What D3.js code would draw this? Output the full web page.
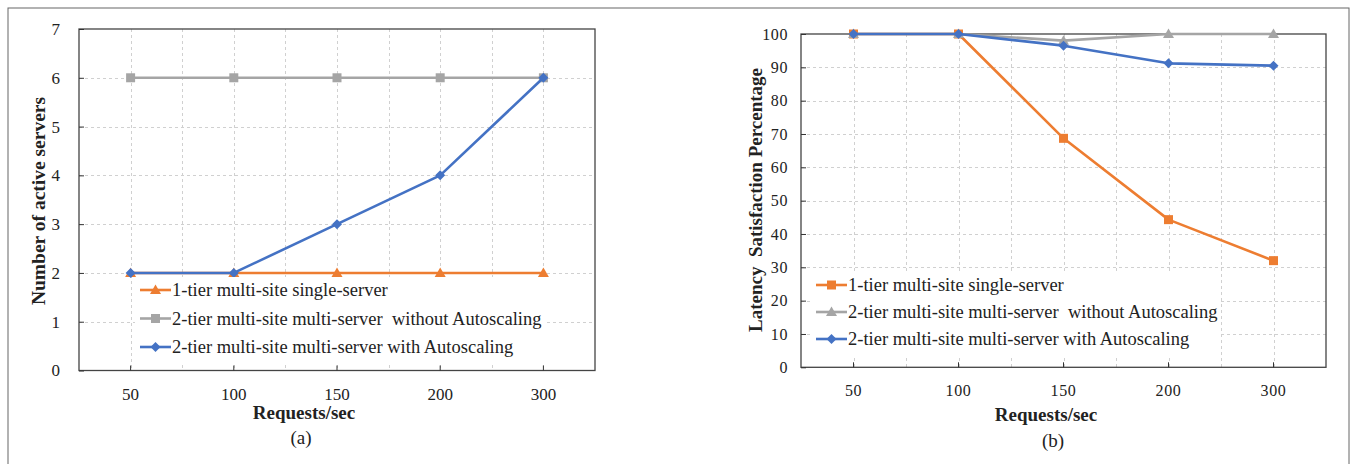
<!DOCTYPE html>
<html>
<head>
<meta charset="utf-8">
<script src="https://cdn.jsdelivr.net/npm/d3@7"></script>
<style>
  body { margin: 0; background: #fff; }
  svg { display: block; font-family: "Liberation Serif", "Times New Roman", serif; }
</style>
</head>
<body>
<svg id="chart" width="1354" height="464"></svg>
<script>
const categories = ["50", "100", "150", "200", "300"];
const seriesNames = [
  "1-tier multi-site single-server",
  "2-tier multi-site multi-server  without Autoscaling",
  "2-tier multi-site multi-server with Autoscaling"
];
const serverTicks = [0, 1, 2, 3, 4, 5, 6, 7];
const serversSingle = [2, 2, 2, 2, 2];
const serversNoAuto = [6, 6, 6, 6, 6];
const serversAuto = [2, 2, 3, 4, 6];

const latencyTicks = [0, 10, 20, 30, 40, 50, 60, 70, 80, 90, 100];
const latencySingle = [100, 100, 68.7, 44.3, 32];
const latencyNoAuto = [100, 100, 98, 100, 100];
const latencyAuto = [100, 100, 96.5, 91.2, 90.5];

const colors = ["#ED7D31", "#A5A5A5", "#4472C4"];

const svg = d3.select("#chart");

// outer frame
svg.append("rect")
  .attr("x", 8).attr("y", 8)
  .attr("width", 1341).attr("height", 480)
  .attr("fill", "none")
  .attr("stroke", "#666")
  .attr("stroke-width", 1);

function markerPath(kind) {
  if (kind === "triangle") return "M0,-5.5L5.5,4L-5.5,4Z";
  if (kind === "square") return "M-4.5,-4.5H4.5V4.5H-4.5Z";
  return "M0,-5L5,0L0,5L-5,0Z"; // diamond
}

function drawPanel(p) {
  const g = svg.append("g");
  const x = d3.scaleBand().domain(categories).range([p.left, p.right]);
  const y = d3.scaleLinear().domain([0, p.ticks[p.ticks.length - 1]]).range([p.bottom, p.top]);
  const cx = (d) => x(d) + x.bandwidth() / 2;

  // grid
  const grid = g.append("g")
    .attr("stroke", "#d0d0d0")
    .attr("stroke-width", 1)
    .attr("stroke-dasharray", "3,3");
  grid.selectAll("line.h")
    .data(p.ticks.slice(1, -1))
    .join("line")
    .attr("class", "h")
    .attr("x1", p.left).attr("x2", p.right)
    .attr("y1", (d) => Math.round(y(d)) + 0.5)
    .attr("y2", (d) => Math.round(y(d)) + 0.5);
  const vlines = [];
  categories.forEach((c, i) => {
    vlines.push(cx(c));
    if (i < categories.length - 1) vlines.push(x(c) + x.bandwidth());
  });
  grid.selectAll("line.v")
    .data(vlines)
    .join("line")
    .attr("class", "v")
    .attr("y1", p.top).attr("y2", p.bottom)
    .attr("x1", (d) => Math.round(d) + 0.5)
    .attr("x2", (d) => Math.round(d) + 0.5);

  // plot box
  g.append("rect")
    .attr("x", p.left).attr("y", p.top)
    .attr("width", p.right - p.left).attr("height", p.bottom - p.top)
    .attr("fill", "none")
    .attr("stroke", "#444")
    .attr("stroke-width", 1.3);

  // axes
  const yAxis = d3.axisLeft(y).tickValues(p.ticks).tickFormat(d3.format("d"))
    .tickSizeInner(-5).tickSizeOuter(0).tickPadding(p.labelGap);
  const ya = g.append("g").attr("transform", `translate(${p.left},0)`).call(yAxis);
  ya.select(".domain").remove();
  ya.selectAll("line").attr("stroke", "#333");
  ya.selectAll("text")
    .attr("font-size", p.tickSize)
    .attr("fill", "#222")
    .attr("letter-spacing", p.tickSpacing)
    .attr("font-family", "Liberation Serif");

  const xAxis = d3.axisBottom(x).tickSizeInner(-5).tickSizeOuter(0).tickPadding(p.xLabelGap);
  const xa = g.append("g").attr("transform", `translate(0,${p.bottom})`).call(xAxis);
  xa.select(".domain").remove();
  xa.selectAll("line").attr("stroke", "#333");
  xa.selectAll("text")
    .attr("font-size", p.tickSize)
    .attr("fill", "#222")
    .attr("letter-spacing", p.tickSpacing)
    .attr("font-family", "Liberation Serif");

  // series
  const line = d3.line().x((d) => cx(d.c)).y((d) => y(d.v));
  p.series.forEach((vals, i) => {
    const pts = vals.map((v, j) => ({ c: categories[j], v }));
    const sg = g.append("g");
    sg.append("path")
      .datum(pts)
      .attr("d", line)
      .attr("fill", "none")
      .attr("stroke", colors[i])
      .attr("stroke-width", 2.6)
      .attr("stroke-linejoin", "round");
    sg.selectAll("path.mk")
      .data(pts)
      .join("path")
      .attr("class", "mk")
      .attr("transform", (d) => `translate(${cx(d.c)},${y(d.v)})`)
      .attr("d", markerPath(p.markers[i]))
      .attr("fill", colors[i]);
  });

  // legend
  const lg = g.append("g");
  lg.append("rect")
    .attr("x", p.legend.x - 5).attr("y", p.legend.y - 13)
    .attr("width", p.legend.w).attr("height", p.legend.gap * 3 + 2)
    .attr("fill", "#fff");
  seriesNames.forEach((name, i) => {
    const ly = p.legend.y + i * p.legend.gap;
    lg.append("line")
      .attr("x1", p.legend.x).attr("x2", p.legend.x + 31)
      .attr("y1", ly).attr("y2", ly)
      .attr("stroke", colors[i]).attr("stroke-width", 2.6);
    lg.append("path")
      .attr("transform", `translate(${p.legend.x + 15.5},${ly})`)
      .attr("d", markerPath(p.markers[i]))
      .attr("fill", colors[i]);
    lg.append("text")
      .attr("x", p.legend.x + 32).attr("y", ly)
      .attr("dy", "0.35em")
      .attr("font-size", 18.5)
      .attr("fill", "#222")
      .style("white-space", "pre")
      .text(name);
  });

  // titles
  g.append("text")
    .attr("transform", `translate(${p.yTitleX},${p.yTitleY}) rotate(-90)`)
    .attr("text-anchor", "middle")
    .attr("dy", "0.35em")
    .attr("font-size", p.yTitleSize)
    .attr("font-weight", "bold")
    .attr("fill", "#222")
    .style("white-space", "pre")
    .text(p.yTitle);
  g.append("text")
    .attr("x", p.xTitleX).attr("y", p.xTitleY)
    .attr("text-anchor", "middle")
    .attr("font-size", 19)
    .attr("font-weight", "bold")
    .attr("fill", "#222")
    .text("Requests/sec");
  g.append("text")
    .attr("x", p.capX).attr("y", p.capY)
    .attr("text-anchor", "middle")
    .attr("font-size", 19)
    .attr("fill", "#222")
    .text(p.caption);
}

drawPanel({
  left: 79, right: 595, top: 29, bottom: 370.5,
  ticks: serverTicks,
  series: [serversSingle, serversNoAuto, serversAuto],
  markers: ["triangle", "square", "diamond"],
  tickSize: 17, tickSpacing: 0, labelGap: 19, xLabelGap: 17,
  legend: { x: 140, y: 290, gap: 28.5, w: 410 },
  yTitle: "Number of active servers", yTitleX: 38, yTitleY: 201, yTitleSize: 19.5,
  xTitleX: 304, xTitleY: 419,
  caption: "(a)", capX: 301, capY: 444
});

drawPanel({
  left: 801, right: 1326, top: 34, bottom: 367.3,
  ticks: latencyTicks,
  series: [latencySingle, latencyNoAuto, latencyAuto],
  markers: ["square", "triangle", "diamond"],
  tickSize: 16, tickSpacing: 0.6, labelGap: 13, xLabelGap: 17,
  legend: { x: 816, y: 285, gap: 27, w: 408 },
  yTitle: "Latency  Satisfaction Percentage", yTitleX: 755, yTitleY: 200, yTitleSize: 19,
  xTitleX: 1046, xTitleY: 421,
  caption: "(b)", capX: 1053, capY: 447
});
</script>
</body>
</html>
